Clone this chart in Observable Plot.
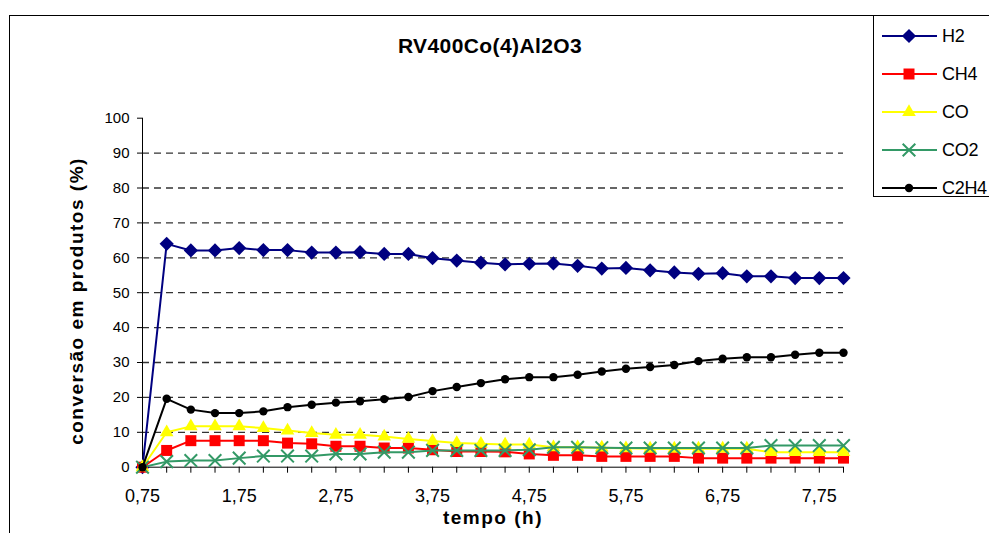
<!DOCTYPE html>
<html><head><meta charset="utf-8">
<script src="https://cdn.jsdelivr.net/npm/d3@7"></script>
<script src="https://cdn.jsdelivr.net/npm/@observablehq/plot@0.6"></script>
<style>
html,body{margin:0;padding:0;background:#fff;overflow:hidden;}
#wrap{position:relative;width:989px;height:533px;overflow:hidden;font-family:"Liberation Sans",Arial,sans-serif;color:#000;}
#frame{position:absolute;left:9px;top:15px;width:1200px;height:800px;border:1px solid #000;box-sizing:border-box;}
#chart{position:absolute;left:0;top:0;}
#title{position:absolute;left:300px;width:380px;top:34px;text-align:center;font-weight:bold;font-size:21px;letter-spacing:0.4px;}
#ytitle{position:absolute;left:77px;top:301px;transform:translate(-50%,-50%) rotate(-90deg);white-space:nowrap;font-weight:bold;font-size:19px;letter-spacing:1.5px;}
#xtitle{position:absolute;left:493px;top:518px;transform:translate(-50%,-50%);white-space:nowrap;font-weight:bold;font-size:19px;letter-spacing:1.5px;}
#legend{position:absolute;left:873px;top:15px;width:200px;height:182px;border:1px solid #000;box-sizing:border-box;background:#fff;}
.lg{position:absolute;left:0;height:20px;display:flex;align-items:center;}
.lg svg{display:block;}
.lg span{font-size:18px;margin-left:3px;letter-spacing:-0.3px;}
</style></head>
<body><div id="wrap">
<div id="frame"></div>
<div id="chart"></div>
<div id="title">RV400Co(4)Al2O3</div>
<div id="ytitle">conversão em produtos (%)</div>
<div id="xtitle">tempo (h)</div>
<div id="legend"></div>
</div>
<script>
const tempo = [0.75, 1.00, 1.25, 1.50, 1.75, 2.00, 2.25, 2.50, 2.75, 3.00, 3.25, 3.50, 3.75, 4.00, 4.25, 4.50, 4.75, 5.00, 5.25, 5.50, 5.75, 6.00, 6.25, 6.50, 6.75, 7.00, 7.25, 7.50, 7.75, 8.00];
const H2   = [0, 64.0, 62.1, 62.1, 62.8, 62.2, 62.2, 61.5, 61.5, 61.6, 61.1, 61.1, 59.9, 59.2, 58.6, 58.1, 58.3, 58.4, 57.7, 56.9, 57.1, 56.4, 55.8, 55.4, 55.6, 54.7, 54.7, 54.2, 54.2, 54.2];
const CH4  = [0, 4.8, 7.6, 7.6, 7.6, 7.6, 6.9, 6.7, 6.0, 6.0, 5.5, 5.5, 5.0, 4.5, 4.5, 4.4, 3.8, 3.4, 3.4, 3.1, 3.1, 3.1, 3.1, 2.6, 2.6, 2.6, 2.6, 2.6, 2.6, 2.6];
const CO   = [0, 10.0, 11.7, 11.7, 11.7, 11.2, 10.5, 9.8, 9.3, 9.3, 8.8, 8.1, 7.5, 6.9, 6.7, 6.5, 6.5, 5.7, 5.7, 5.6, 5.4, 5.3, 5.3, 5.3, 5.3, 5.3, 4.3, 4.3, 4.3, 4.3];
const CO2  = [0, 1.6, 1.9, 1.9, 2.6, 3.2, 3.2, 3.2, 3.8, 3.8, 4.3, 4.3, 4.8, 4.8, 4.8, 4.8, 5.0, 5.7, 5.7, 5.6, 5.5, 5.5, 5.5, 5.5, 5.5, 5.5, 6.2, 6.2, 6.2, 6.2];
const C2H4 = [0, 19.6, 16.5, 15.5, 15.5, 16.0, 17.2, 17.9, 18.5, 18.9, 19.5, 20.1, 21.8, 23.0, 24.1, 25.2, 25.8, 25.8, 26.5, 27.4, 28.2, 28.7, 29.3, 30.4, 31.1, 31.5, 31.5, 32.2, 32.8, 32.8];
const seriesNames = ["H2", "CH4", "CO", "CO2", "C2H4"];
const seriesValues = [H2, CH4, CO, CO2, C2H4];
const yTicks = [0, 10, 20, 30, 40, 50, 60, 70, 80, 90, 100];
const gridValues = [10, 20, 30, 40, 50, 60, 70, 80, 90];
const xLabelValues = [0.75, 1.75, 2.75, 3.75, 4.75, 5.75, 6.75, 7.75];
const xLabels = ["0,75", "1,75", "2,75", "3,75", "4,75", "5,75", "6,75", "7,75"];

const styles = {
  H2:   {color: "#000080", symbol: "diamond2", r: 6.4, sym: d3.symbolDiamond2},
  CH4:  {color: "#FF0000", symbol: "square2",  r: 7.0, sym: d3.symbolSquare2},
  CO:   {color: "#FFFF00", symbol: "triangle2", r: 6.5, sym: d3.symbolTriangle2},
  CO2:  {color: "#339966", symbol: "times",    r: 5.8, sym: d3.symbolTimes, stroked: true},
  C2H4: {color: "#000000", symbol: "circle",   r: 4.2, sym: d3.symbolCircle}
};

const seriesMarks = seriesNames.flatMap((name, k) => {
  const data = tempo.map((t, i) => ({tempo: t, valor: seriesValues[k][i]}));
  const s = styles[name];
  return [
    Plot.line(data, {x: "tempo", y: "valor", stroke: s.color, strokeWidth: 2}),
    s.stroked
      ? Plot.dot(data, {x: "tempo", y: "valor", symbol: () => s.symbol, r: s.r, stroke: s.color, strokeWidth: 2, fill: "none"})
      : Plot.dot(data, {x: "tempo", y: "valor", symbol: () => s.symbol, r: s.r, fill: s.color, stroke: "none"})
  ];
});

const chart = Plot.plot({
  width: 989,
  height: 533,
  marginLeft: 142,
  marginRight: 146,
  marginTop: 117.7,
  marginBottom: 66.3,
  style: {background: "transparent", fontFamily: "'Liberation Sans', Arial, sans-serif", color: "#000", overflow: "visible"},
  x: {domain: [tempo[0], tempo[tempo.length - 1]]},
  y: {domain: [0, 100]},
  symbol: {type: "identity"},
  marks: [
    Plot.ruleY(gridValues, {stroke: "#333", strokeWidth: 1.3, strokeDasharray: "7,5"}),
    Plot.axisY({ticks: yTicks, tickSize: 5, tickPadding: 8, fontSize: 15, label: null, tickFormat: d => String(d)}),
    Plot.axisX({ticks: tempo, tickSize: 6, tickFormat: () => "", label: null}),
    Plot.axisX({ticks: xLabelValues, tickSize: 0, tickPadding: 22, fontSize: 18, label: null, tickFormat: d => xLabels[xLabelValues.indexOf(d)]}),
    Plot.ruleX([tempo[0]], {y1: 0, y2: 100, stroke: "#000"}),
    Plot.ruleY([0], {stroke: "#000"}),
    ...seriesMarks
  ]
});
document.getElementById("chart").appendChild(chart);

// legend
const legend = document.getElementById("legend");
const rowY = [20, 58, 96, 134, 172];
seriesNames.forEach((name, k) => {
  const s = styles[name];
  const row = document.createElement("div");
  row.className = "lg";
  row.style.top = (rowY[k] - 10) + "px";
  row.style.left = "7px";
  const svg = d3.create("svg").attr("width", 58).attr("height", 20);
  svg.append("line").attr("x1", 1).attr("x2", 56).attr("y1", 10).attr("y2", 10).attr("stroke", s.color).attr("stroke-width", 2);
  const p = svg.append("path").attr("transform", "translate(28,10)")
    .attr("d", d3.symbol(s.sym, Math.PI * s.r * s.r)());
  if (s.stroked) p.attr("fill", "none").attr("stroke", s.color).attr("stroke-width", 2);
  else p.attr("fill", s.color);
  row.appendChild(svg.node());
  const sp = document.createElement("span");
  sp.textContent = name;
  row.appendChild(sp);
  legend.appendChild(row);
});
</script>
</body></html>
